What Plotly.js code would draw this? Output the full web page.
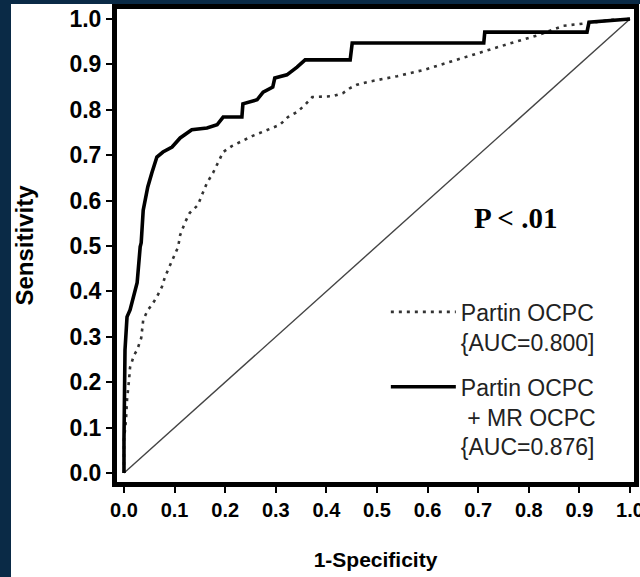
<!DOCTYPE html>
<html><head><meta charset="utf-8">
<script src="https://cdn.plot.ly/plotly-3.0.1.min.js"></script>
<style>
html,body{margin:0;padding:0;background:#0a2a46;width:640px;height:577px;overflow:hidden}
#chart{position:absolute;left:11px;top:4px;width:629px;height:573px;background:#fff}
</style></head><body><div id="chart"></div>
<script>
// Reference (chance) line
const chanceX = [0, 1];
const chanceY = [0, 1];

// Partin OCPC (AUC = 0.800) — dotted curve
const partinFPR = [0,0,0.004,0.006,0.010,0.012,0.020,0.026,0.034,0.038,0.047,0.055,0.065,0.075,0.081,0.091,0.099,0.107,0.111,0.121,0.130,0.146,0.154,0.164,0.176,0.186,0.196,0.213,0.233,0.253,0.273,0.292,0.308,0.324,0.342,0.358,0.372,0.413,0.433,0.447,0.460,0.480,0.520,0.540,0.593,0.642,0.690,0.731,0.771,0.820,0.868,0.917,0.964,1.0];
const partinTPR = [0,0.073,0.117,0.161,0.205,0.233,0.260,0.271,0.297,0.337,0.359,0.370,0.388,0.410,0.432,0.458,0.476,0.498,0.524,0.553,0.573,0.590,0.612,0.639,0.661,0.683,0.707,0.720,0.731,0.742,0.751,0.760,0.767,0.784,0.795,0.811,0.828,0.830,0.837,0.848,0.855,0.861,0.870,0.874,0.888,0.905,0.921,0.936,0.949,0.965,0.985,0.991,0.998,1.0];

// Partin OCPC + MR OCPC (AUC = 0.876) — solid curve
const comboFPR = [0,0,0.002,0.006,0.012,0.018,0.026,0.032,0.034,0.038,0.047,0.055,0.065,0.077,0.095,0.111,0.134,0.164,0.184,0.196,0.233,0.235,0.263,0.275,0.294,0.298,0.322,0.342,0.358,0.447,0.451,0.711,0.713,0.915,0.919,1.0];
const comboTPR = [0,0.073,0.271,0.344,0.359,0.388,0.419,0.498,0.507,0.579,0.630,0.661,0.696,0.707,0.718,0.738,0.756,0.760,0.767,0.784,0.784,0.813,0.822,0.839,0.850,0.870,0.877,0.894,0.910,0.910,0.947,0.947,0.971,0.971,0.993,1.0];

const tickVals = [0,0.1,0.2,0.3,0.4,0.5,0.6,0.7,0.8,0.9,1.0];
const tickText = ['0.0','0.1','0.2','0.3','0.4','0.5','0.6','0.7','0.8','0.9','1.0'];

const seriesNames = ['Partin OCPC<br>{AUC=0.800]', 'Partin OCPC<br>&nbsp;+ MR OCPC<br>{AUC=0.876]'];
const xTitle = '1-Specificity';
const yTitle = 'Sensitivity';
const pText = 'P &lt; .01';

const traces = [
  {x: chanceX, y: chanceY, mode: 'lines', line: {color: '#444', width: 1.4}, showlegend: false, hoverinfo: 'skip'},
  {x: partinFPR, y: partinTPR, mode: 'lines', name: seriesNames[0], legendgroup: 'a',
   line: {color: '#333', width: 2.6, dash: '3px,5px'}},
  {x: comboFPR, y: comboTPR, mode: 'lines', name: seriesNames[1], legendgroup: 'b',
   line: {color: '#000', width: 3.6}}
];

const axisCommon = {
  showline: true, linewidth: 5, linecolor: '#000', mirror: true,
  ticks: 'outside', ticklen: 6, tickwidth: 2, tickcolor: '#000',
  showgrid: false, zeroline: false, fixedrange: true,
  tickvals: tickVals, ticktext: tickText, ticklabeloverflow: 'allow'
};

const layout = {
  width: 629, height: 573,
  margin: {l: 106, r: 6, t: 5, b: 95},
  paper_bgcolor: '#fff', plot_bgcolor: '#fff',
  font: {family: 'Liberation Sans, Arial, sans-serif', color: '#000'},
  xaxis: Object.assign({}, axisCommon, {
    range: [-0.0138, 1.0079],
    tickfont: {size: 20, weight: 'bold', family: 'Liberation Sans, Arial, sans-serif'},
    title: {text: xTitle, font: {size: 21, weight: 'bold'}, standoff: 34}
  }),
  yaxis: Object.assign({}, axisCommon, {
    range: [-0.0198, 1.022],
    tickfont: {size: 23, weight: 'bold', family: 'Liberation Sans, Arial, sans-serif'},
    title: {text: yTitle, font: {size: 24, weight: 'bold'}, standoff: 44}
  }),
  legend: {
    x: 0.52, y: 0.405, xanchor: 'left', yanchor: 'top',
    bgcolor: 'rgba(0,0,0,0)', font: {size: 23, color: '#222'},
    itemwidth: 65, valign: 'top', traceorder: 'grouped', tracegroupgap: 12
  },
  annotations: [{
    text: pText, xref: 'paper', yref: 'paper', x: 0.77, y: 0.558,
    xanchor: 'center', yanchor: 'middle', showarrow: false,
    font: {family: 'Liberation Serif, Times New Roman, serif', size: 29, weight: 'bold', color: '#000'}
  }]
};

Plotly.newPlot('chart', traces, layout, {staticPlot: true, displayModeBar: false});
</script></body></html>
